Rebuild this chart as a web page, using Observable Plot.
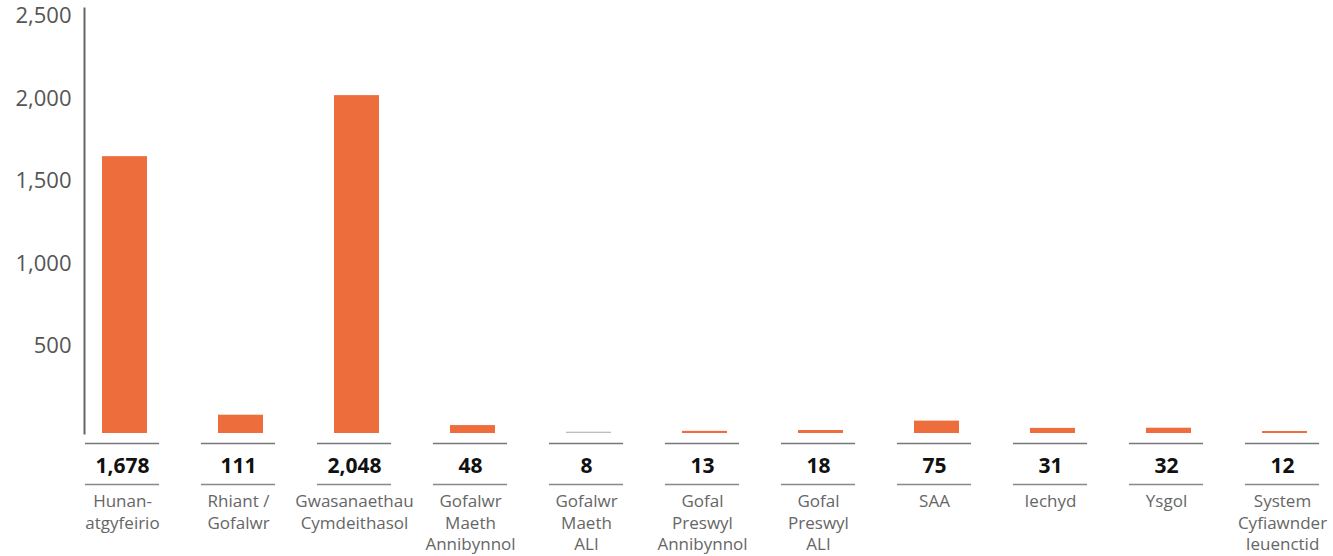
<!DOCTYPE html>
<html>
<head>
<meta charset="utf-8">
<script src="https://cdn.jsdelivr.net/npm/d3@7"></script>
<script src="https://cdn.jsdelivr.net/npm/@observablehq/plot@0.6"></script>
<style>
  html, body { margin: 0; padding: 0; background: #fff; }
  #chart { width: 1333px; height: 556px; }
  #chart svg .domain,
  #chart svg g[aria-label="frame"] line,
  #chart svg g[aria-label="frame"] path,
  #chart svg line[aria-label="frame"],
  #chart svg path[aria-label="frame"] { stroke-width: 2px; stroke: #666; }
</style>
</head>
<body>
<div id="chart"></div>
<script>
const categories = [
  "Hunan-\natgyfeirio",
  "Rhiant /\nGofalwr",
  "Gwasanaethau\nCymdeithasol",
  "Gofalwr\nMaeth\nAnnibynnol",
  "Gofalwr\nMaeth\nALI",
  "Gofal\nPreswyl\nAnnibynnol",
  "Gofal\nPreswyl\nALI",
  "SAA",
  "Iechyd",
  "Ysgol",
  "System\nCyfiawnder\nIeuenctid"
];
const values = [1678, 111, 2048, 48, 8, 13, 18, 75, 31, 32, 12];
const barColors = ["#ED6E3C", "#ED6E3C", "#ED6E3C", "#ED6E3C", "#BDBDBD", "#ED6E3C", "#ED6E3C", "#ED6E3C", "#ED6E3C", "#ED6E3C", "#ED6E3C"];
const yTicks = [500, 1000, 1500, 2000, 2500];

const data = categories.map((c, i) => ({category: c, value: values[i], color: barColors[i]}));
const fmt = d3.format(",");
const font = "'Open Sans', Lato, sans-serif";

const chart = Plot.plot({
  width: 1333,
  height: 556,
  marginLeft: 84,
  marginRight: 9,
  marginTop: 8,
  marginBottom: 123,
  style: {fontFamily: font, color: "#666", background: "#fff"},
  x: {domain: categories, paddingInner: 0.613, paddingOuter: 0.1376, axis: null},
  y: {domain: [0, 2576], axis: "left", ticks: [], tickSize: 0, line: true, label: null},
  marks: [
    Plot.barY(data, {x: "category", y: "value", fill: "color"}),
    Plot.tickY(data, {x: "category", y: () => 0, dy: 10, insetLeft: -17, insetRight: -12, stroke: "#777", strokeWidth: 1.5}),
    Plot.tickY(data, {x: "category", y: () => 0, dy: 51, insetLeft: -17, insetRight: -12, stroke: "#888", strokeWidth: 1.5}),
    Plot.text(data, {x: "category", y: () => 0, text: d => fmt(d.value), dx: -2.5, dy: 32.5, lineAnchor: "middle", fontSize: 21, fontWeight: "bold", fill: "#111", fontFamily: font}),
    Plot.text(data, {x: "category", y: () => 0, text: "category", dx: -2.5, dy: 58.5, lineAnchor: "top", lineHeight: 1.26, fontSize: 17, fill: "#666", fontFamily: font}),
    Plot.text(yTicks, {y: d => d, text: d => fmt(d), frameAnchor: "left", textAnchor: "end", dx: -13, dy: -5, fontSize: 22, fill: "#555", fontFamily: font})
  ]
});
document.getElementById("chart").appendChild(chart);
</script>
</body>
</html>
